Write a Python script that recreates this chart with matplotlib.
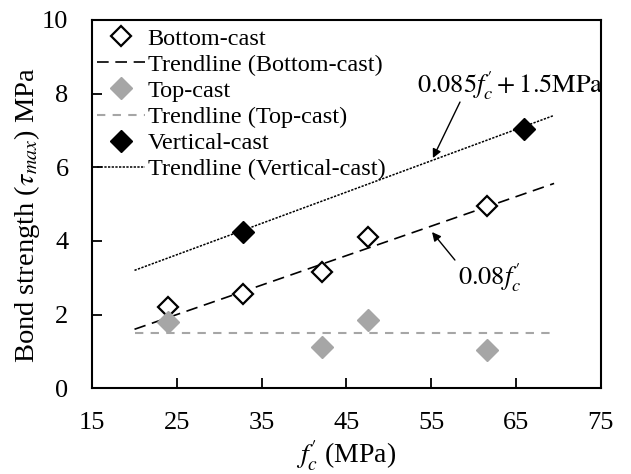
import numpy as np
import matplotlib
matplotlib.use('Agg')
import matplotlib.pyplot as plt

plt.rcParams['font.family'] = ['Liberation Serif', 'DejaVu Serif']
plt.rcParams['mathtext.fontset'] = 'stix'

# compressive strength (MPa) and bond strength (MPa)
fc_bottom = [24.0, 32.8, 42.1, 47.6, 61.6]
tau_bottom = [2.2, 2.55, 3.15, 4.1, 4.95]

fc_top = [24.0, 42.1, 47.6, 61.6]
tau_top = [1.8, 1.12, 1.85, 1.05]

fc_vert = [32.8, 66.0]
tau_vert = [4.25, 7.05]

# trendlines: slope, intercept
trend_bottom = (0.08, 0.0)
trend_top = (0.0, 1.5)
trend_vert = (0.085, 1.5)
trend_x = np.array([20, 69.5])

gray = '#a6a6a6'
fc = r"f_c^{\prime}"

fig = plt.figure(figsize=(6.31, 4.74), dpi=100)
ax = fig.add_axes([0.146, 0.181, 0.806, 0.777])

ax.plot(fc_bottom, tau_bottom, 'D', ms=10.5, mfc='white', mec='black', mew=1.6,
        label='Bottom-cast', zorder=3)
ax.plot(trend_x, trend_bottom[0] * trend_x + trend_bottom[1], color='black',
        lw=1.2, dashes=(7, 4), label='Trendline (Bottom-cast)')
ax.plot(fc_top, tau_top, 'D', ms=11, color=gray, mec=gray, label='Top-cast', zorder=3)
ax.plot(trend_x, trend_top[0] * trend_x + trend_top[1], color=gray,
        lw=1.5, dashes=(4, 3.5), label='Trendline (Top-cast)')
ax.plot(fc_vert, tau_vert, 'D', ms=11, color='black', label='Vertical-cast', zorder=3)
ax.plot(trend_x, trend_vert[0] * trend_x + trend_vert[1], color='black',
        lw=1.1, dashes=(1.5, 0.9), label='Trendline (Vertical-cast)')

ax.set_xlim(15, 75)
ax.set_ylim(0, 10)
ax.set_xticks([15, 25, 35, 45, 55, 65, 75])
ax.set_yticks([0, 2, 4, 6, 8, 10])
ax.tick_params(direction='in', length=7, width=1.3, labelsize=19)
ax.tick_params(axis='y', pad=17)
ax.tick_params(axis='x', pad=17)
for s in ax.spines.values():
    s.set_linewidth(1.5)

ax.set_xlabel(r"$%s$ (MPa)" % fc, fontsize=20, labelpad=4)
ax.set_ylabel(r"Bond strength ($\tau_{max}$) MPa", fontsize=20.5)
ax.yaxis.set_label_coords(-0.099, 0.47)

arrow = dict(arrowstyle='-|>', color='black', lw=1.0, mutation_scale=13,
             shrinkA=0, shrinkB=0)
ax.annotate('', xy=(55.2, 6.25), xytext=(58.4, 7.77), arrowprops=arrow)
ax.text(64.3, 8.23, r"$0.085%s + 1.5\mathrm{MPa}$" % fc, fontsize=19,
        ha='center', va='center')
ax.annotate('', xy=(55.1, 4.24), xytext=(57.8, 3.48), arrowprops=arrow)
ax.text(61.9, 3.0, r"$0.08%s$" % fc, fontsize=19, ha='center', va='center')

ax.legend(loc='upper left', bbox_to_anchor=(-0.015, 1.012), frameon=False, fontsize=17.5,
          handlelength=2.0, handletextpad=0.1, labelspacing=0.17, borderaxespad=0.1)

fig.savefig('out.png', dpi=100)
